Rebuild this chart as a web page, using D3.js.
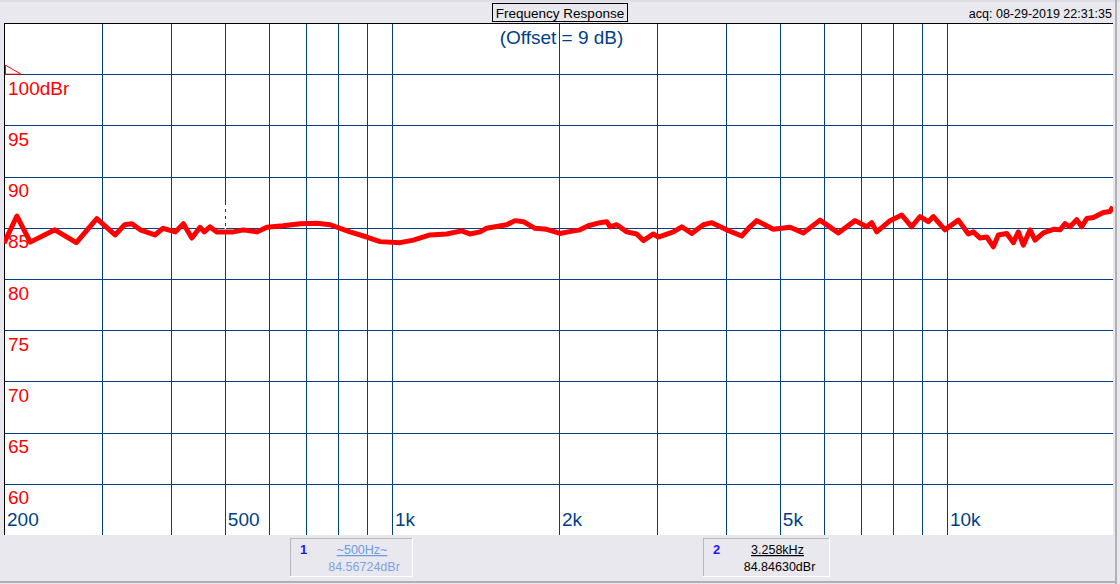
<!DOCTYPE html>
<html><head><meta charset="utf-8">
<script src="https://cdn.jsdelivr.net/npm/d3@7/dist/d3.min.js"></script>
<style>
html,body{margin:0;padding:0;background:#e9e8ee;}
svg{display:block;font-family:"Liberation Sans",Arial,sans-serif;}
</style></head><body>
<svg id="c" width="1120" height="584"></svg>
<script>
// ---- data ----
const freqs = [200,211,223,247,270,294,317,330,340,352,374,387,407,421,436,451,459,470,483,518,540,571,595,637,683,732,774,840,901,952,
1034,1093,1171,1255,1335,1382,1441,1481,1610,1666,1725,1811,1900,2008,2078,2182,2258,2372,2438,2472,2542,2649,2761,2838,2958,3020,3214,3328,3468,3641,3770,4010,4268,4417,
4543,4866,5216,5510,5906,6371,6830,7170,7320,7473,7898,8290,8640,8945,9258,9453,9922,10485,10930,11160,11475,11797,12125,12378,12817,13172,13448,13730,14116,14414,14918,15550,15988,16324,16665,17136,17494,17860,18356,18738,19132,19672,19894];
const levels = [83.5,86.15,83.6,84.8,83.55,85.9,84.3,85.3,85.4,84.8,84.3,84.95,84.6,85.4,84.0,85.05,84.6,85.1,84.6,84.6,84.8,84.6,85.05,85.2,85.4,85.45,85.3,84.6,84.1,83.65,
83.55,83.8,84.3,84.4,84.7,84.4,84.6,84.95,85.3,85.7,85.6,84.95,84.85,84.45,84.6,84.8,85.2,85.5,85.6,85.1,85.3,84.6,84.4,83.75,84.4,84.1,84.6,85.1,84.45,85.3,85.5,84.8,84.2,85.1,
85.7,84.85,85.05,84.5,85.75,84.5,85.7,85.1,85.5,84.6,85.7,86.25,85.1,86.1,85.6,86.1,84.8,85.75,84.4,84.6,84.0,84.1,83.15,84.3,84.45,83.55,84.6,83.3,84.8,83.8,84.5,84.85,84.8,85.4,85.1,85.8,85.1,85.9,86.0,86.25,86.5,86.6,87.05];
const gridFreqs = [200,300,400,500,600,700,800,900,1000,2000,3000,4000,5000,6000,7000,8000,9000,10000];
const xLabelFreqs = [200,500,1000,2000,5000,10000];
const xLabelTexts = ["200","500","1k","2k","5k","10k"];
const yTicks = [100,95,90,85,80,75,70,65,60];
const yTickTexts = ["100dBr","95","90","85","80","75","70","65","60"];
const title = "Frequency Response";
const subtitle = "(Offset = 9 dB)";
const acq = "acq: 08-29-2019 22:31:35";
const cursor1Freq = 500, cursor1Text = "~500Hz~", cursor1Level = "84.56724dBr";
const cursor2Text = "3.258kHz", cursor2Level = "84.84630dBr";
const refLevel = 100;

// ---- layout ----
const svg = d3.select("#c");
const L=4, R=1114, T=23, B=535;
const x = d3.scaleLog().domain([200,20000]).range([L,R]);
const y = d3.scaleLinear().domain([55,105]).range([B,T]);
const grid="#003f87";

svg.append("rect").attr("x",0).attr("y",0).attr("width",1120).attr("height",584).attr("fill","#e9e8ee");
svg.append("rect").attr("x",0).attr("y",0).attr("width",1120).attr("height",2).attr("fill","#dcdce2");
svg.append("rect").attr("x",L).attr("y",T).attr("width",1113-L).attr("height",B-T).attr("fill","#fff");

// vertical grid
const gx = svg.append("g").attr("transform",`translate(0,${T})`)
  .call(d3.axisBottom(x).tickValues(gridFreqs).tickSize(B-T).tickFormat(""));
gx.select(".domain").remove();
gx.selectAll("line").attr("stroke",grid).attr("stroke-width",1).attr("shape-rendering","crispEdges");
// horizontal grid
const gy = svg.append("g").attr("transform",`translate(${L},0)`)
  .call(d3.axisRight(y).tickValues(yTicks).tickSize(1113-L).tickFormat(""));
gy.select(".domain").remove();
gy.selectAll("line").attr("stroke",grid).attr("stroke-width",1).attr("shape-rendering","crispEdges");

// border
svg.append("line").attr("x1",L).attr("x2",1113).attr("y1",T+0.5).attr("y2",T+0.5).attr("stroke","#000");
svg.append("line").attr("x1",L+0.5).attr("x2",L+0.5).attr("y1",T).attr("y2",B).attr("stroke","#000");
svg.append("rect").attr("x",1115).attr("y",0).attr("width",2).attr("height",584).attr("fill","#b0b0b4");
svg.append("rect").attr("x",0).attr("y",581).attr("width",1117).attr("height",2).attr("fill","#b0b0b4");

// y labels
svg.append("g").selectAll("text").data(yTicks).join("text")
  .attr("x",8).attr("y",d=>y(d)+20.5).attr("fill","#ff0000").attr("font-size",19)
  .text((d,i)=>yTickTexts[i]);
// x labels
svg.append("g").selectAll("text").data(xLabelFreqs).join("text")
  .attr("x",d=>x(d)+3).attr("y",526).attr("fill","#003f87").attr("font-size",19)
  .text((d,i)=>xLabelTexts[i]);

// cursor marker (white dashed)
svg.append("line").attr("x1",x(cursor1Freq)+0.5).attr("x2",x(cursor1Freq)+0.5).attr("y1",205).attr("y2",233)
  .attr("stroke","#fff").attr("stroke-width",1.5).attr("stroke-dasharray","4,3");

// curve
svg.append("clipPath").attr("id","pc").append("rect").attr("x",L).attr("y",T).attr("width",1113-L).attr("height",B-T);
const line = d3.line().x((d,i)=>x(freqs[i])).y(d=>y(d));
svg.append("path").attr("clip-path","url(#pc)").attr("d",line(levels))
  .attr("fill","none").attr("stroke","#ff0000").attr("stroke-width",5).attr("stroke-linejoin","round");

// reference triangle
const ry = y(refLevel);
svg.append("path").attr("d",`M${L+1.5},${ry-9}L${L+1.5},${ry}L${L+17},${ry}Z`).attr("fill","none").attr("stroke","#ff0000").attr("stroke-width",1);

// title
svg.append("rect").attr("x",492.5).attr("y",3.5).attr("width",135).attr("height",18).attr("fill","#e9e8ee").attr("stroke","#000");
svg.append("text").attr("x",560).attr("y",17.5).attr("text-anchor","middle").attr("font-size",13.5).attr("fill","#000").text(title);
svg.append("text").attr("x",561.5).attr("y",44).attr("text-anchor","middle").attr("font-size",19).attr("fill","#003f87").text(subtitle);
svg.append("text").attr("x",1112).attr("y",18).attr("text-anchor","end").attr("font-size",12.5).attr("fill","#000").text(acq);

// marker boxes
function box(x0,x1,num,t1,t2,c1,c2,cx1,cx2){
  const g=svg.append("g");
  g.append("rect").attr("x",x0+0.5).attr("y",538.5).attr("width",x1-x0).attr("height",38).attr("fill","#e9e8ee").attr("stroke","#b8b8bc");
  g.append("line").attr("x1",x1+0.5).attr("x2",x1+0.5).attr("y1",538).attr("y2",577).attr("stroke","#fff");
  g.append("line").attr("x1",x0).attr("x2",x1+1).attr("y1",576.5).attr("y2",576.5).attr("stroke","#fff");
  g.append("text").attr("x",x0+10).attr("y",554).attr("font-size",13).attr("font-weight","bold").attr("fill","#1a1aff").text(num);
  g.append("text").attr("x",cx1).attr("y",554).attr("text-anchor","middle").attr("font-size",12.5).attr("fill",c1).attr("text-decoration","underline").text(t1);
  g.append("text").attr("x",cx2).attr("y",571).attr("text-anchor","middle").attr("font-size",12.5).attr("fill",c2).text(t2);
}
box(290,412,"1",cursor1Text,cursor1Level,"#6c9be0","#7ea4e0",362,364);
box(703,829,"2",cursor2Text,cursor2Level,"#000","#000",777.5,779.5);
</script></body></html>
